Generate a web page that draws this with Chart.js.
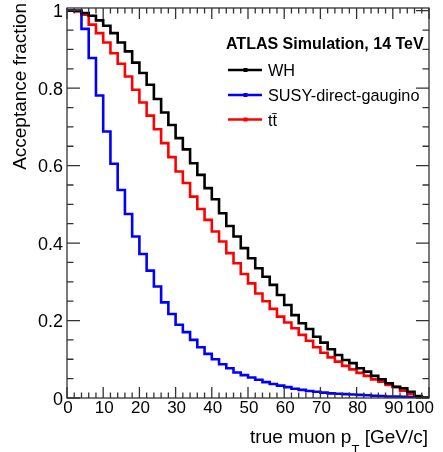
<!DOCTYPE html>
<html>
<head>
<meta charset="utf-8">
<script src="https://cdn.jsdelivr.net/npm/chart.js@4.4.1/dist/chart.umd.min.js"></script>
<style>
  html, body { margin: 0; padding: 0; background: #fff; }
  #wrap { width: 443px; height: 452px; position: relative; }
</style>
</head>
<body>
<div id="wrap"><canvas id="c" width="443" height="452"></canvas></div>
<script>
// ---- data ----
const xEdges = [0,2,4,6,8,10,12,14,16,18,20,22,24,26,28,30,32,34,36,38,40,42,44,46,48,50,
                52,54,56,58,60,62,64,66,68,70,72,74,76,78,80,82,84,86,88,90,92,94,96,98,100];

const whValues = [1.000,1.000,0.994,0.987,0.975,0.961,0.942,0.918,0.895,0.866,
                  0.839,0.809,0.772,0.737,0.705,0.671,0.642,0.606,0.576,0.542,
                  0.513,0.477,0.444,0.417,0.387,0.361,0.335,0.313,0.292,0.266,
                  0.240,0.214,0.193,0.178,0.158,0.143,0.126,0.111,0.098,0.090,
                  0.077,0.068,0.057,0.048,0.038,0.029,0.025,0.016,0.005,0.001];

const susyValues = [1.000,1.000,0.953,0.878,0.781,0.688,0.605,0.537,0.475,0.417,
                    0.372,0.329,0.288,0.247,0.217,0.189,0.170,0.150,0.131,0.114,
                    0.100,0.087,0.077,0.066,0.059,0.053,0.047,0.041,0.036,0.032,
                    0.028,0.024,0.021,0.018,0.016,0.014,0.012,0.011,0.010,0.009,
                    0.008,0.007,0.006,0.005,0.004,0.004,0.003,0.002,0.001,0.000];

const ttbarValues = [1.000,0.998,0.990,0.964,0.942,0.918,0.890,0.863,0.830,0.796,
                     0.763,0.729,0.694,0.658,0.622,0.585,0.555,0.520,0.488,0.460,
                     0.430,0.404,0.374,0.348,0.320,0.296,0.270,0.250,0.230,0.210,
                     0.195,0.180,0.163,0.148,0.131,0.117,0.105,0.094,0.083,0.074,
                     0.065,0.057,0.048,0.042,0.034,0.028,0.019,0.010,0.003,0.000];

const seriesNames = ['WH', 'SUSY-direct-gaugino', 'tt\u0304'];
const xTickValues = [0,10,20,30,40,50,60,70,80,90,100];
const xTickLabels = ['0','10','20','30','40','50','60','70','80','90','100'];
const yTickValues = [0,0.2,0.4,0.6,0.8,1];
const yTickLabels = ['0','0.2','0.4','0.6','0.8','1'];
const headerText = 'ATLAS Simulation, 14 TeV';
const yTitle = 'Acceptance fraction';

// ---- helpers ----
function histPoints(vals) {
  return xEdges.map((e, i) => ({ x: e, y: vals[Math.min(i, vals.length - 1)] }));
}
const FONT = '"Liberation Sans", Arial, Helvetica, sans-serif';
const colors = ['#000000', '#0000ff', '#ff0000'];

const decorPlugin = {
  id: 'rootDecor',
  afterDatasetsDraw(chart) {
    const { ctx, chartArea: a, scales: { x, y } } = chart;
    ctx.save();
    // frame
    ctx.strokeStyle = '#333';
    ctx.lineWidth = 1.3;
    ctx.strokeRect(a.left, a.top, a.right - a.left, a.bottom - a.top);
    // x ticks (bottom & top), inside
    ctx.beginPath();
    for (let v = 0; v <= 100.0001; v += 2) {
      const px = x.getPixelForValue(v);
      const major = Math.abs(v % 10) < 1e-6;
      const len = major ? 11 : 5.5;
      ctx.moveTo(px, a.bottom); ctx.lineTo(px, a.bottom - len);
      ctx.moveTo(px, a.top); ctx.lineTo(px, a.top + len);
    }
    // y ticks (left & right), inside
    for (let k = 0; k <= 20; k++) {
      const v = k * 0.05;
      const py = y.getPixelForValue(v);
      const major = k % 4 === 0;
      const len = major ? 13 : 6.5;
      ctx.moveTo(a.left, py); ctx.lineTo(a.left + len, py);
      ctx.moveTo(a.right, py); ctx.lineTo(a.right - len, py);
    }
    ctx.stroke();

    // tick labels
    ctx.fillStyle = '#000';
    ctx.font = '17px ' + FONT;
    ctx.textBaseline = 'alphabetic';
    xTickValues.forEach((v, i) => {
      const px = x.getPixelForValue(v);
      if (i === xTickValues.length - 1) { ctx.textAlign = 'right'; ctx.fillText(xTickLabels[i], px + 5, 413); }
      else { ctx.textAlign = 'center'; ctx.fillText(xTickLabels[i], px + 1, 413); }
    });
    ctx.font = '18px ' + FONT;
    ctx.textAlign = 'right';
    yTickValues.forEach((v, i) => {
      const py = y.getPixelForValue(v);
      ctx.fillText(yTickLabels[i], a.left - 4, py + 6.5);
    });

    // x title with subscript
    const t1 = 'true muon p', t3 = ' [GeV/c]';
    ctx.font = '19px ' + FONT; const w1 = ctx.measureText(t1).width;
    ctx.font = '13px ' + FONT; const w2 = ctx.measureText('T').width;
    ctx.font = '19px ' + FONT; const w3 = ctx.measureText(t3).width;
    const xs = 428 - (w1 + w2 + w3);
    ctx.textAlign = 'left';
    ctx.fillText(t1, xs, 443);
    ctx.font = '13px ' + FONT; ctx.fillText('T', xs + w1, 454);
    ctx.font = '19px ' + FONT; ctx.fillText(t3, xs + w1 + w2, 443);

    // y title
    ctx.save();
    ctx.translate(26, 3);
    ctx.rotate(-Math.PI / 2);
    ctx.textAlign = 'right';
    ctx.font = '19px ' + FONT;
    ctx.fillText(yTitle, 0, 0);
    ctx.restore();

    // legend
    ctx.font = 'bold 16px ' + FONT;
    ctx.textAlign = 'left';
    ctx.fillText(headerText, 226, 49);
    const rows = [70, 95, 119.5];
    ctx.font = '16.3px ' + FONT;
    seriesNames.forEach((name, i) => {
      const yy = rows[i];
      ctx.strokeStyle = colors[i];
      ctx.lineWidth = 2.5;
      ctx.beginPath(); ctx.moveTo(228, yy); ctx.lineTo(262, yy); ctx.stroke();
      ctx.fillStyle = colors[i];
      ctx.fillRect(243.5, yy - 2, 4, 4);
      ctx.fillStyle = '#000';
      ctx.fillText(name, 268, yy + 6);
    });
    ctx.restore();
  }
};

new Chart(document.getElementById('c'), {
  type: 'line',
  data: {
    datasets: [
      { label: seriesNames[0], data: histPoints(whValues), borderColor: colors[0] },
      { label: seriesNames[1], data: histPoints(susyValues), borderColor: colors[1] },
      { label: seriesNames[2], data: histPoints(ttbarValues), borderColor: colors[2] }
    ].map(d => Object.assign(d, { stepped: true, borderWidth: 2.6, pointRadius: 0, fill: false, tension: 0 }))
  },
  options: {
    responsive: false,
    animation: false,
    devicePixelRatio: 1,
    layout: { padding: { left: 67, right: 14, top: 8, bottom: 54 } },
    plugins: { legend: { display: false }, tooltip: { enabled: false } },
    scales: {
      x: { type: 'linear', min: 0, max: 100, display: false },
      y: { type: 'linear', min: 0, max: 1.007, display: false }
    }
  },
  plugins: [decorPlugin]
});
</script>
</body>
</html>
